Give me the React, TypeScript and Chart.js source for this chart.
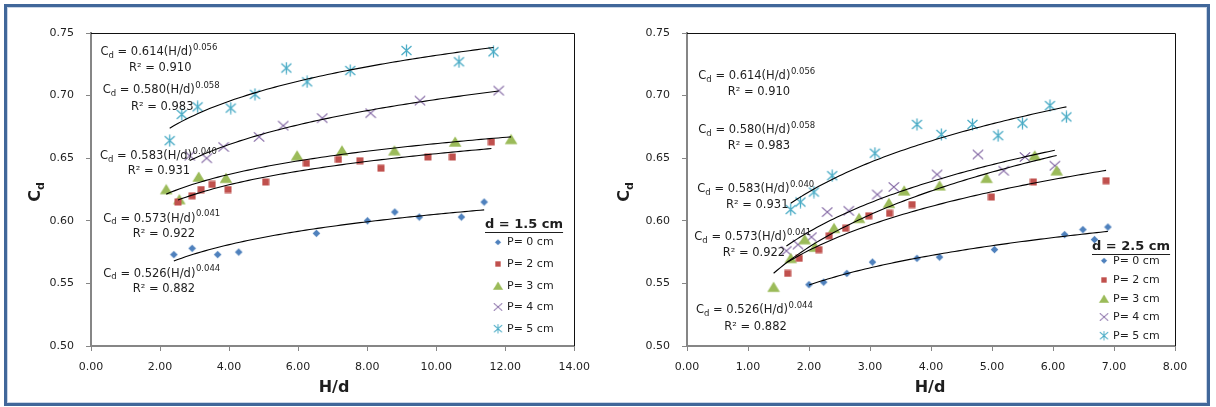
import React, { useEffect, useRef } from 'react';
import { Chart, registerables } from 'chart.js';

Chart.register(...registerables);

// ---------- Series labels ----------
const seriesLabels = ['P= 0 cm', 'P= 2 cm', 'P= 3 cm', 'P= 4 cm', 'P= 5 cm'];
const seriesColors = ['#4F81BD', '#C0504D', '#9BBB59', '#8064A2', '#4BACC6'];
const seriesMarkers = ['diamond', 'square', 'triangle', 'x', 'star'];

// ---------- Left chart: d = 1.5 cm ----------
const leftP0X = [2.40, 2.93, 3.67, 4.28, 6.53, 8.01, 8.80, 9.51, 10.73, 11.39];
const leftP0Y = [0.573, 0.578, 0.573, 0.575, 0.590, 0.600, 0.607, 0.603, 0.603, 0.615];
const leftP2X = [2.52, 2.93, 3.19, 3.51, 3.97, 5.06, 6.24, 7.17, 7.79, 8.40, 9.76, 10.47, 11.60];
const leftP2Y = [0.615, 0.620, 0.625, 0.629, 0.625, 0.631, 0.646, 0.649, 0.648, 0.642, 0.651, 0.651, 0.663];
const leftP3X = [2.18, 2.56, 3.12, 3.91, 5.97, 7.27, 8.79, 10.55, 12.17];
const leftP3Y = [0.625, 0.617, 0.635, 0.634, 0.652, 0.656, 0.656, 0.663, 0.665];
const leftP4X = [2.86, 3.35, 3.84, 4.87, 5.57, 6.70, 8.10, 9.53, 11.81];
const leftP4Y = [0.652, 0.650, 0.659, 0.667, 0.676, 0.682, 0.686, 0.696, 0.704];
const leftP5X = [2.28, 2.63, 3.09, 4.05, 4.75, 5.66, 6.26, 7.51, 9.14, 10.66, 11.66];
const leftP5Y = [0.664, 0.685, 0.691, 0.690, 0.701, 0.722, 0.711, 0.720, 0.736, 0.727, 0.735];

// ---------- Right chart: d = 2.5 cm ----------
const rightP0X = [2.00, 2.24, 2.62, 3.04, 3.77, 4.14, 5.04, 6.19, 6.49, 6.68, 6.90];
const rightP0Y = [0.549, 0.551, 0.558, 0.567, 0.570, 0.571, 0.577, 0.589, 0.593, 0.585, 0.595];
const rightP2X = [1.65, 1.84, 2.16, 2.33, 2.60, 2.98, 3.32, 3.69, 4.99, 5.68, 6.87];
const rightP2Y = [0.558, 0.570, 0.577, 0.588, 0.594, 0.604, 0.606, 0.613, 0.619, 0.631, 0.632];
const rightP3X = [1.42, 1.70, 1.93, 2.10, 2.41, 2.82, 3.31, 3.56, 4.14, 4.91, 5.70, 6.06];
const rightP3Y = [0.547, 0.570, 0.585, 0.579, 0.594, 0.602, 0.614, 0.624, 0.628, 0.634, 0.652, 0.640];
const rightP4X = [1.63, 1.82, 2.04, 2.30, 2.65, 3.12, 3.39, 4.10, 4.77, 5.19, 5.54, 6.03];
const rightP4Y = [0.576, 0.581, 0.587, 0.607, 0.608, 0.621, 0.627, 0.637, 0.653, 0.640, 0.651, 0.644];
const rightP5X = [1.70, 1.86, 2.08, 2.38, 3.08, 3.77, 4.17, 4.68, 5.10, 5.50, 5.95, 6.22];
const rightP5Y = [0.609, 0.615, 0.623, 0.636, 0.654, 0.677, 0.669, 0.677, 0.668, 0.678, 0.692, 0.683];

// ---------- Axis ranges ----------
const leftXMax = 14;
const leftXStep = 2;
const rightXMax = 8;
const rightXStep = 1;
const yMin = 0.5;
const yMax = 0.75;
const yStep = 0.05;

// ---------- Equation labels (same in both panels) ----------
const eqCoef = ['0.614', '0.580', '0.583', '0.573', '0.526'];
const eqExp = ['0.056', '0.058', '0.040', '0.041', '0.044'];
const eqR2 = ['0.910', '0.983', '0.931', '0.922', '0.882'];

const leftTitle = 'd = 1.5 cm';
const rightTitle = 'd = 2.5 cm';
const xTitle = 'H/d';

const FONT = '"DejaVu Sans", Verdana, sans-serif';
const TEXT = '#1e1e1e';
const AXIS = '#868686';

function powerFit(xs: number[], ys: number[]) {
  const n = xs.length;
  const lx = xs.map((v) => Math.log(v));
  const ly = ys.map((v) => Math.log(v));
  const mx = lx.reduce((a, b) => a + b, 0) / n;
  const my = ly.reduce((a, b) => a + b, 0) / n;
  let sxy = 0;
  let sxx = 0;
  for (let i = 0; i < n; i++) {
    sxy += (lx[i] - mx) * (ly[i] - my);
    sxx += (lx[i] - mx) * (lx[i] - mx);
  }
  const b = sxy / sxx;
  const a = Math.exp(my - b * mx);
  return { a, b };
}

function trendPoints(xs: number[], ys: number[]) {
  const { a, b } = powerFit(xs, ys);
  const x0 = Math.min(...xs);
  const x1 = Math.max(...xs);
  const pts: { x: number; y: number }[] = [];
  const n = 80;
  for (let i = 0; i <= n; i++) {
    const x = x0 + ((x1 - x0) * i) / n;
    pts.push({ x, y: a * Math.pow(x, b) });
  }
  return pts;
}

function makeMarker(kind: string, color: string): HTMLCanvasElement {
  const c = document.createElement('canvas');
  const s = kind === 'triangle' ? 14 : kind === 'star' ? 13 : kind === 'x' ? 12 : kind === 'square' ? 8 : 9;
  c.width = s;
  c.height = s;
  const g = c.getContext('2d') as CanvasRenderingContext2D;
  const m = s / 2;
  g.fillStyle = color;
  g.strokeStyle = color;
  g.lineCap = 'butt';
  switch (kind) {
    case 'diamond':
      g.beginPath();
      g.moveTo(m, m - 3.8);
      g.lineTo(m + 3.8, m);
      g.lineTo(m, m + 3.8);
      g.lineTo(m - 3.8, m);
      g.closePath();
      g.fill();
      break;
    case 'square':
      g.fillRect(m - 3.5, m - 3.5, 7, 7);
      break;
    case 'triangle':
      g.beginPath();
      g.moveTo(m, m - 5.5);
      g.lineTo(m + 6.3, m + 4.8);
      g.lineTo(m - 6.3, m + 4.8);
      g.closePath();
      g.fill();
      break;
    case 'x':
      g.lineWidth = 1.2;
      g.beginPath();
      g.moveTo(m - 5.2, m - 4.6);
      g.lineTo(m + 5.2, m + 4.6);
      g.moveTo(m + 5.2, m - 4.6);
      g.lineTo(m - 5.2, m + 4.6);
      g.stroke();
      break;
    case 'star':
      g.lineWidth = 1.3;
      g.beginPath();
      g.moveTo(m, m - 6);
      g.lineTo(m, m + 6);
      g.moveTo(m - 5, m - 4.5);
      g.lineTo(m + 5, m + 4.5);
      g.moveTo(m + 5, m - 4.5);
      g.lineTo(m - 5, m + 4.5);
      g.stroke();
      break;
  }
  return c;
}

interface PanelLayout {
  eqPos: number[][]; // [cx, cy, rx, ry]
  legendTitle: string;
  legendTitlePos: number[]; // left x, center y
  legendMarkerX: number;
  legendTextX: number;
  legendY: number[];
  yTitlePos: number[];
  xTitlePos: number[];
}

function drawEquation(ctx: CanvasRenderingContext2D, x: number, y: number, coef: string, exp: string) {
  const main = `11.5px ${FONT}`;
  const small = `8.5px ${FONT}`;
  ctx.textAlign = 'left';
  ctx.textBaseline = 'middle';
  ctx.fillStyle = TEXT;
  ctx.font = main;
  ctx.fillText('C', x, y);
  let cx = x + ctx.measureText('C').width;
  ctx.font = small;
  ctx.fillText('d', cx, y + 3.5);
  cx += ctx.measureText('d').width;
  ctx.font = main;
  const body = ` = ${coef}(H/d)`;
  ctx.fillText(body, cx, y);
  cx += ctx.measureText(body).width;
  ctx.font = small;
  ctx.fillText(exp, cx + 0.5, y - 4.5);
}

function makeDecor(layout: PanelLayout, markers: HTMLCanvasElement[]) {
  return {
    id: 'decor',
    afterDraw(chart: any) {
      const ctx: CanvasRenderingContext2D = chart.ctx;
      const ca = chart.chartArea;
      ctx.save();
      // plot box top/right
      ctx.strokeStyle = '#111';
      ctx.lineWidth = 1;
      ctx.beginPath();
      ctx.moveTo(ca.left, Math.round(ca.top) + 0.5);
      ctx.lineTo(Math.round(ca.right) + 0.5, Math.round(ca.top) + 0.5);
      ctx.lineTo(Math.round(ca.right) + 0.5, ca.bottom);
      ctx.stroke();

      // equations
      layout.eqPos.forEach((p, i) => {
        drawEquation(ctx, p[0], p[1], eqCoef[i], eqExp[i]);
        ctx.font = `11.5px ${FONT}`;
        ctx.textAlign = 'left';
        ctx.textBaseline = 'middle';
        ctx.fillStyle = TEXT;
        ctx.fillText(`R\u00B2 = ${eqR2[i]}`, p[2], p[3]);
      });

      // legend
      ctx.font = `bold 13px ${FONT}`;
      ctx.fillStyle = TEXT;
      ctx.textAlign = 'left';
      ctx.textBaseline = 'middle';
      const [tx, ty] = layout.legendTitlePos;
      ctx.fillText(layout.legendTitle, tx, ty);
      const tw = ctx.measureText(layout.legendTitle).width;
      ctx.strokeStyle = TEXT;
      ctx.lineWidth = 1.2;
      ctx.beginPath();
      ctx.moveTo(tx, ty + 7.5);
      ctx.lineTo(tx + tw, ty + 7.5);
      ctx.stroke();
      ctx.font = `11px ${FONT}`;
      seriesLabels.forEach((lab, i) => {
        const yy = layout.legendY[i];
        const mk = markers[i];
        const scale = 0.8;
        ctx.drawImage(mk, layout.legendMarkerX - (mk.width * scale) / 2, yy - (mk.height * scale) / 2, mk.width * scale, mk.height * scale);
        ctx.fillStyle = TEXT;
        ctx.fillText(lab, layout.legendTextX, yy);
      });

      // x title
      ctx.font = `bold 16px ${FONT}`;
      ctx.textAlign = 'center';
      ctx.fillText(xTitle, layout.xTitlePos[0], layout.xTitlePos[1]);

      // y title (rotated C_d)
      ctx.translate(layout.yTitlePos[0], layout.yTitlePos[1]);
      ctx.rotate(-Math.PI / 2);
      ctx.textAlign = 'left';
      ctx.font = `bold 16px ${FONT}`;
      const wc = ctx.measureText('C').width;
      ctx.font = `bold 11px ${FONT}`;
      const wd = ctx.measureText('d').width;
      const start = -(wc + wd) / 2;
      ctx.font = `bold 16px ${FONT}`;
      ctx.fillText('C', start, 0);
      ctx.font = `bold 11px ${FONT}`;
      ctx.fillText('d', start + wc, 5);
      ctx.restore();
    },
  };
}

function buildDatasets(xsList: number[][], ysList: number[][], markers: HTMLCanvasElement[]) {
  const ds: any[] = [];
  xsList.forEach((xs, i) => {
    ds.push({
      type: 'line',
      label: `trend ${seriesLabels[i]}`,
      data: trendPoints(xs, ysList[i]),
      borderColor: '#000',
      borderWidth: 1.1,
      pointRadius: 0,
      showLine: true,
      fill: false,
      tension: 0,
      order: 0,
    });
  });
  xsList.forEach((xs, i) => {
    ds.push({
      type: 'scatter',
      label: seriesLabels[i],
      data: xs.map((x, k) => ({ x, y: ysList[i][k] })),
      pointStyle: markers[i],
      pointRadius: 5,
      backgroundColor: seriesColors[i],
      borderColor: seriesColors[i],
      order: 1,
    });
  });
  return ds;
}

function makeOptions(xMax: number, xStep: number, yWidth: number, padRight: number) {
  const tickFont = { family: FONT, size: 11 };
  return {
    animation: false,
    responsive: false,
    devicePixelRatio: 1,
    events: [],
    layout: { padding: { top: 33, right: padRight, bottom: 0, left: 0 } },
    plugins: { legend: { display: false }, tooltip: { enabled: false }, title: { display: false } },
    scales: {
      x: {
        type: 'linear',
        min: 0,
        max: xMax,
        ticks: {
          stepSize: xStep,
          callback: (v: any) => Number(v).toFixed(2),
          padding: 10,
          font: tickFont,
          color: TEXT,
          maxRotation: 0,
        },
        grid: { drawOnChartArea: false, drawTicks: true, tickLength: 5, color: AXIS, lineWidth: 1 },
        border: { display: true, color: AXIS, width: 2 },
        afterFit: (s: any) => {
          s.height = 61;
        },
      },
      y: {
        type: 'linear',
        min: yMin,
        max: yMax,
        ticks: {
          stepSize: yStep,
          callback: (v: any) => Number(v).toFixed(2),
          padding: 12,
          font: tickFont,
          color: TEXT,
        },
        grid: { drawOnChartArea: false, drawTicks: true, tickLength: 5, color: AXIS, lineWidth: 1 },
        border: { display: true, color: AXIS, width: 2 },
        afterFit: (s: any) => {
          s.width = yWidth;
        },
      },
    },
  };
}

const leftLayout: PanelLayout = {
  eqPos: [
    [100.5, 52, 129, 68],
    [102.7, 90.5, 131, 107.3],
    [100, 156.2, 127.7, 171.3],
    [103.3, 218.7, 132.7, 234],
    [103.3, 273.7, 132.7, 288.8],
  ],
  legendTitle: leftTitle,
  legendTitlePos: [485, 225],
  legendMarkerX: 498,
  legendTextX: 507,
  legendY: [242.3, 264, 286, 307, 328.7],
  yTitlePos: [36, 192],
  xTitlePos: [334, 388],
};

const rightLayout: PanelLayout = {
  eqPos: [
    [98.3, 76.2, 127.7, 92],
    [98.3, 130.3, 127.7, 145.8],
    [97.3, 189.5, 126, 204.7],
    [94.3, 237.5, 122.7, 253.3],
    [96, 310, 124.3, 326.7],
  ],
  legendTitle: rightTitle,
  legendTitlePos: [492, 247],
  legendMarkerX: 504,
  legendTextX: 513,
  legendY: [260.7, 280, 299, 317, 335.7],
  yTitlePos: [25, 192],
  xTitlePos: [330, 388],
};

export default function App() {
  const leftRef = useRef<HTMLCanvasElement>(null);
  const rightRef = useRef<HTMLCanvasElement>(null);

  useEffect(() => {
    const markers = seriesMarkers.map((k, i) => makeMarker(k, seriesColors[i]));
    Chart.defaults.font.family = FONT;
    const left = new Chart(leftRef.current as HTMLCanvasElement, {
      type: 'scatter',
      data: {
        datasets: buildDatasets(
          [leftP0X, leftP2X, leftP3X, leftP4X, leftP5X],
          [leftP0Y, leftP2Y, leftP3Y, leftP4Y, leftP5Y],
          markers
        ),
      },
      options: makeOptions(leftXMax, leftXStep, 91, 23) as any,
      plugins: [makeDecor(leftLayout, markers)],
    });
    const right = new Chart(rightRef.current as HTMLCanvasElement, {
      type: 'scatter',
      data: {
        datasets: buildDatasets(
          [rightP0X, rightP2X, rightP3X, rightP4X, rightP5X],
          [rightP0Y, rightP2Y, rightP3Y, rightP4Y, rightP5Y],
          markers
        ),
      },
      options: makeOptions(rightXMax, rightXStep, 87, 41) as any,
      plugins: [makeDecor(rightLayout, markers)],
    });
    return () => {
      left.destroy();
      right.destroy();
    };
  }, []);

  return (
    <div style={{ position: 'absolute', left: 0, top: 0, width: 1216, height: 407, background: '#fff', overflow: 'hidden' }}>
      <div
        style={{
          position: 'absolute',
          left: 4,
          top: 4,
          width: 1206,
          height: 402,
          boxSizing: 'border-box',
          border: '3px solid #41679a',
          boxShadow: 'inset 0 0 0 1px #c9d5e6',
        }}
      />
      <canvas ref={leftRef} width={600} height={407} style={{ position: 'absolute', left: 0, top: 0, width: 600, height: 407 }} />
      <canvas ref={rightRef} width={616} height={407} style={{ position: 'absolute', left: 600, top: 0, width: 616, height: 407 }} />
    </div>
  );
}
